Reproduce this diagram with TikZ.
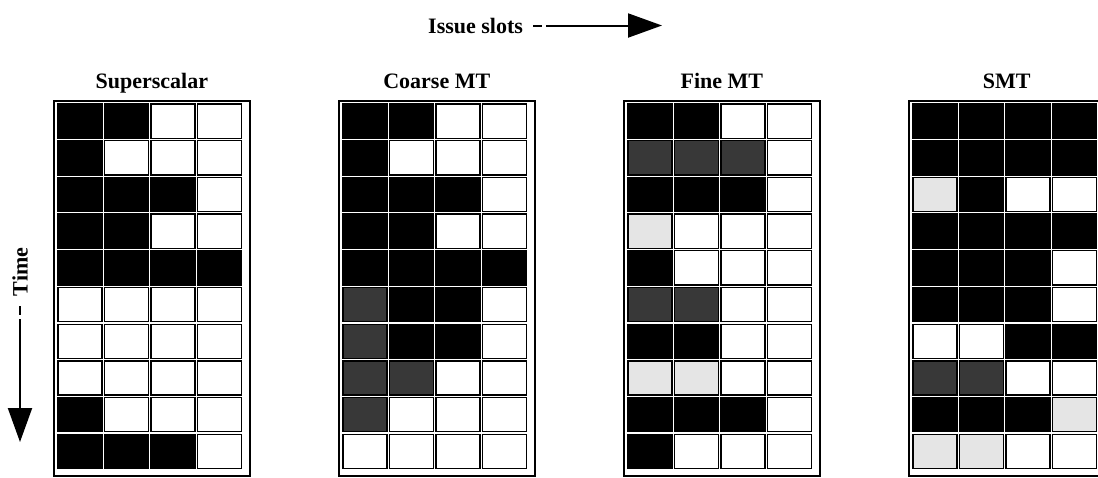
\documentclass[tikz,border=0pt]{standalone}
\usepackage{fontspec}
\setmainfont{Liberation Serif}
\usetikzlibrary{arrows.meta, positioning}

\colorlet{slotB}{black}
\colorlet{slotD}{black!78}
\colorlet{slotL}{black!10}
\colorlet{slotW}{white}

% one issue-slot grid: name, left x, title, slot colours (row by row)
\newcommand{\slotgrid}[4]{%
  \node[frame, anchor=north west, minimum width=196pt, minimum height=375pt] (#1) at (#2,-100) {};
  \node[above=12pt of #1, anchor=base] (#1-title) {#3};
  \foreach \s [count=\i from 0] in {#4} {%
    \pgfmathtruncatemacro{\col}{mod(\i,4)}%
    \pgfmathtruncatemacro{\row}{floor(\i/4)}%
    \draw[slot, fill=slot\s] ({#2+5+\col*46.5},{-104-\row*36.7}) rectangle ++(44,-34.2);
  }%
}

\begin{document}
\begin{tikzpicture}[
    x=1pt, y=1pt,
    every node/.style={font=\fontsize{22}{26}\selectfont\bfseries, inner sep=0pt},
    frame/.style={rectangle, draw, line width=1.6pt},
    slot/.style={draw, line width=1.3pt},
    axisarrow/.style={-{Triangle[length=34pt, width=24pt]}, line width=2pt, dash pattern=on 9pt off 4pt on 400pt},
]
\useasboundingbox (0,0) rectangle (1098,-477);
\clip (0,0) rectangle (1098,-477);

% === Axes ===
\node[anchor=base west] (issue) at (428,-33) {Issue slots};
\coordinate (issue-tip) at (662,0);
\draw[axisarrow] ([xshift=10pt]issue.east) -- (issue.east -| issue-tip);

\node[rotate=90] (time) at (20,-272) {Time};
\coordinate (time-tip) at (0,-442);
\draw[axisarrow] ([yshift=-10pt]time.west) -- (time.west |- time-tip);

% === Grids ===
\slotgrid{super}{53}{Superscalar}{B,B,W,W, B,W,W,W, B,B,B,W, B,B,W,W, B,B,B,B,
  W,W,W,W, W,W,W,W, W,W,W,W, B,W,W,W, B,B,B,W}
\slotgrid{coarse}{338}{Coarse MT}{B,B,W,W, B,W,W,W, B,B,B,W, B,B,W,W, B,B,B,B,
  D,B,B,W, D,B,B,W, D,D,W,W, D,W,W,W, W,W,W,W}
\slotgrid{fine}{623}{Fine MT}{B,B,W,W, D,D,D,W, B,B,B,W, L,W,W,W, B,W,W,W,
  D,D,W,W, B,B,W,W, L,L,W,W, B,B,B,W, B,W,W,W}
\slotgrid{smt}{908}{SMT}{B,B,B,B, B,B,B,B, L,B,W,W, B,B,B,B, B,B,B,W,
  B,B,B,W, W,W,B,B, D,D,W,W, B,B,B,L, L,L,W,W}

\end{tikzpicture}
\end{document}
